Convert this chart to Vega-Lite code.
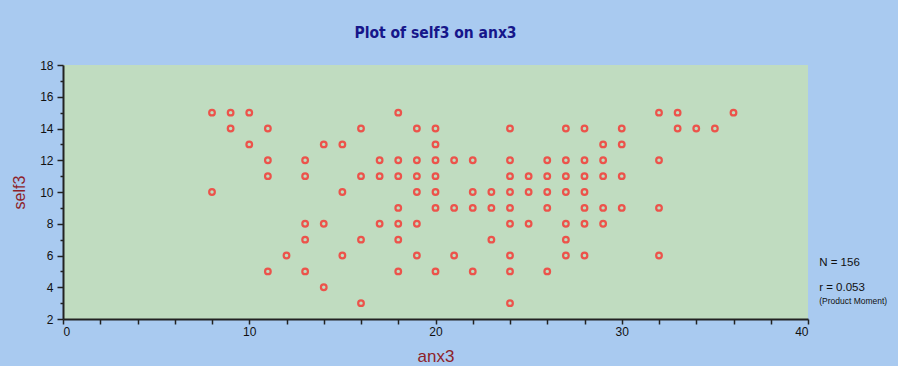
{
  "$schema": "https://vega.github.io/schema/vega-lite/v6.json",
  "autosize": {"type": "none"},
  "width": 745,
  "height": 254,
  "padding": {"left": 63, "top": 65, "right": 90, "bottom": 47},
  "background": "#A9CAF0",
  "title": {
    "text": "Plot of self3 on anx3",
    "anchor": "middle",
    "frame": "group",
    "font": "DejaVu Sans Condensed, Liberation Sans",
    "fontSize": 15.5,
    "fontWeight": "bold",
    "color": "#16168A",
    "offset": 18
  },
  "config": {
    "view": {"fill": "#C0DCC0", "stroke": null},
    "axis": {
      "labelFont": "Liberation Sans",
      "labelFontSize": 12,
      "labelColor": "#111111",
      "domainColor": "#222222",
      "domainWidth": 2,
      "tickColor": "#222222",
      "tickWidth": 1.5,
      "grid": false,
      "titleFont": "Liberation Sans",
      "titleFontWeight": "normal",
      "titleColor": "#8E1F2A"
    }
  },
  "resolve": {"axis": {"x": "independent", "y": "independent"}},
  "layer": [
    {
      "data": {
        "values": [
          {"anx3": 8, "self3": 15}, {"anx3": 8, "self3": 10},
          {"anx3": 9, "self3": 15}, {"anx3": 9, "self3": 14},
          {"anx3": 10, "self3": 15}, {"anx3": 10, "self3": 13},
          {"anx3": 11, "self3": 14}, {"anx3": 11, "self3": 12}, {"anx3": 11, "self3": 11}, {"anx3": 11, "self3": 5},
          {"anx3": 12, "self3": 6},
          {"anx3": 13, "self3": 12}, {"anx3": 13, "self3": 11}, {"anx3": 13, "self3": 8}, {"anx3": 13, "self3": 7}, {"anx3": 13, "self3": 5},
          {"anx3": 14, "self3": 13}, {"anx3": 14, "self3": 8}, {"anx3": 14, "self3": 4},
          {"anx3": 15, "self3": 13}, {"anx3": 15, "self3": 10}, {"anx3": 15, "self3": 6},
          {"anx3": 16, "self3": 14}, {"anx3": 16, "self3": 11}, {"anx3": 16, "self3": 7}, {"anx3": 16, "self3": 3},
          {"anx3": 17, "self3": 12}, {"anx3": 17, "self3": 11}, {"anx3": 17, "self3": 8},
          {"anx3": 18, "self3": 15}, {"anx3": 18, "self3": 12}, {"anx3": 18, "self3": 11}, {"anx3": 18, "self3": 9}, {"anx3": 18, "self3": 8}, {"anx3": 18, "self3": 7}, {"anx3": 18, "self3": 5},
          {"anx3": 19, "self3": 14}, {"anx3": 19, "self3": 12}, {"anx3": 19, "self3": 11}, {"anx3": 19, "self3": 10}, {"anx3": 19, "self3": 8}, {"anx3": 19, "self3": 6},
          {"anx3": 20, "self3": 14}, {"anx3": 20, "self3": 13}, {"anx3": 20, "self3": 12}, {"anx3": 20, "self3": 11}, {"anx3": 20, "self3": 10}, {"anx3": 20, "self3": 9}, {"anx3": 20, "self3": 5},
          {"anx3": 21, "self3": 12}, {"anx3": 21, "self3": 9}, {"anx3": 21, "self3": 6},
          {"anx3": 22, "self3": 12}, {"anx3": 22, "self3": 10}, {"anx3": 22, "self3": 9}, {"anx3": 22, "self3": 5},
          {"anx3": 23, "self3": 10}, {"anx3": 23, "self3": 9}, {"anx3": 23, "self3": 7},
          {"anx3": 24, "self3": 14}, {"anx3": 24, "self3": 12}, {"anx3": 24, "self3": 11}, {"anx3": 24, "self3": 10}, {"anx3": 24, "self3": 9}, {"anx3": 24, "self3": 8}, {"anx3": 24, "self3": 6}, {"anx3": 24, "self3": 5}, {"anx3": 24, "self3": 3},
          {"anx3": 25, "self3": 11}, {"anx3": 25, "self3": 10}, {"anx3": 25, "self3": 8},
          {"anx3": 26, "self3": 12}, {"anx3": 26, "self3": 11}, {"anx3": 26, "self3": 10}, {"anx3": 26, "self3": 9}, {"anx3": 26, "self3": 5},
          {"anx3": 27, "self3": 14}, {"anx3": 27, "self3": 12}, {"anx3": 27, "self3": 11}, {"anx3": 27, "self3": 10}, {"anx3": 27, "self3": 8}, {"anx3": 27, "self3": 7}, {"anx3": 27, "self3": 6},
          {"anx3": 28, "self3": 14}, {"anx3": 28, "self3": 12}, {"anx3": 28, "self3": 11}, {"anx3": 28, "self3": 10}, {"anx3": 28, "self3": 9}, {"anx3": 28, "self3": 8}, {"anx3": 28, "self3": 6},
          {"anx3": 29, "self3": 13}, {"anx3": 29, "self3": 12}, {"anx3": 29, "self3": 11}, {"anx3": 29, "self3": 9}, {"anx3": 29, "self3": 8},
          {"anx3": 30, "self3": 14}, {"anx3": 30, "self3": 13}, {"anx3": 30, "self3": 11}, {"anx3": 30, "self3": 9},
          {"anx3": 32, "self3": 15}, {"anx3": 32, "self3": 12}, {"anx3": 32, "self3": 9}, {"anx3": 32, "self3": 6},
          {"anx3": 33, "self3": 15}, {"anx3": 33, "self3": 14},
          {"anx3": 34, "self3": 14}, {"anx3": 35, "self3": 14}, {"anx3": 36, "self3": 15}
        ]
      },
      "mark": {"type": "point", "shape": "circle", "size": 32, "filled": false, "stroke": "#FF1A1A", "strokeWidth": 2.2},
      "encoding": {
        "x": {
          "field": "anx3", "type": "quantitative",
          "scale": {"domain": [0, 40], "nice": false, "zero": false},
          "axis": {
            "title": "anx3",
            "orient": "bottom",
            "titleFontSize": 17,
            "values": [0,2,4,6,8,10,12,14,16,18,20,22,24,26,28,30,32,34,36,38,40],
            "labelExpr": "datum.value % 10 === 0 ? datum.label : ''",
            "labelOverlap": false,
            "tickSize": 5,
            "labelPadding": 2,
            "titlePadding": 11
          }
        },
        "y": {
          "field": "self3", "type": "quantitative",
          "scale": {"domain": [2, 18], "nice": false, "zero": false},
          "axis": {
            "title": "self3",
            "orient": "left",
            "titleFontSize": 16,
            "format": "d",
            "values": [2,2.25,2.5,2.75,3,3.25,3.5,3.75,4,4.25,4.5,4.75,5,5.25,5.5,5.75,6,6.25,6.5,6.75,7,7.25,7.5,7.75,8,8.25,8.5,8.75,9,9.25,9.5,9.75,10,10.25,10.5,10.75,11,11.25,11.5,11.75,12,12.25,12.5,12.75,13,13.25,13.5,13.75,14,14.25,14.5,14.75,15,15.25,15.5,15.75,16,16.25,16.5,16.75,17,17.25,17.5,17.75,18],
            "labelExpr": "datum.value % 2 === 0 ? datum.label : ''",
            "labelOverlap": false,
            "tickSize": {"condition": {"test": "datum.value % 2 === 0", "value": 6}, "value": 3},
            "labelPadding": 4,
            "titlePadding": 12
          }
        }
      }
    },
    {
      "data": {"values": [{"label": "N = 156"}]},
      "mark": {"type": "text", "align": "left", "baseline": "middle", "font": "Liberation Sans", "fontSize": 11.5, "color": "#111111", "clip": false},
      "encoding": {
        "text": {"field": "label"},
        "x": {"datum": 40.6, "axis": null},
        "y": {"datum": 5.55, "axis": null}
      }
    },
    {
      "data": {"values": [{"label": "r = 0.053"}]},
      "mark": {"type": "text", "align": "left", "baseline": "middle", "font": "Liberation Sans", "fontSize": 11.5, "color": "#111111", "clip": false},
      "encoding": {
        "text": {"field": "label"},
        "x": {"datum": 40.6, "axis": null},
        "y": {"datum": 3.95, "axis": null}
      }
    },
    {
      "data": {"values": [{"label": "(Product Moment)"}]},
      "mark": {"type": "text", "align": "left", "baseline": "middle", "font": "Liberation Sans", "fontSize": 8.5, "color": "#111111", "clip": false},
      "encoding": {
        "text": {"field": "label"},
        "x": {"datum": 40.6, "axis": null},
        "y": {"datum": 3.15, "axis": null}
      }
    }
  ]
}
